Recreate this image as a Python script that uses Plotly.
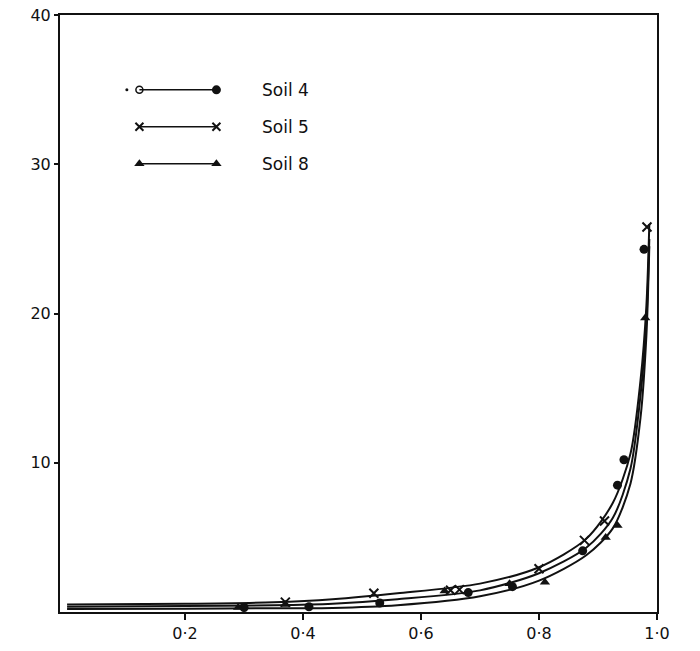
import plotly.graph_objects as go

# ---------------- data ----------------
soils = ["Soil 4", "Soil 5", "Soil 8"]

# fitted curves
curve_x = [0.0, 0.2, 0.35, 0.45, 0.56, 0.70, 0.80, 0.88, 0.925, 0.955, 0.972, 0.982, 0.987]
curve4_y = [0.35, 0.4, 0.45, 0.55, 0.85, 1.45, 2.6, 4.3, 6.3, 9.6, 14.5, 19.5, 25.0]
curve5_y = [0.5, 0.55, 0.65, 0.85, 1.25, 1.9, 3.0, 4.9, 7.3, 10.6, 15.5, 20.5, 26.0]
curve8_y = [0.2, 0.22, 0.25, 0.27, 0.45, 1.05, 2.1, 3.8, 5.6, 8.6, 13.0, 18.5, 24.5]

# observed points
soil4_x = [0.30, 0.41, 0.53, 0.68, 0.755, 0.874, 0.933, 0.944, 0.978]
soil4_y = [0.30, 0.35, 0.60, 1.30, 1.70, 4.10, 8.50, 10.20, 24.30]
soil5_x = [0.37, 0.52, 0.65, 0.665, 0.80, 0.877, 0.911, 0.983]
soil5_y = [0.66, 1.26, 1.46, 1.50, 2.90, 4.80, 6.10, 25.80]
soil8_x = [0.29, 0.37, 0.64, 0.75, 0.81, 0.913, 0.933, 0.980]
soil8_y = [0.30, 0.50, 1.40, 1.90, 2.00, 5.00, 5.80, 19.70]

x_ticks = [0.2, 0.4, 0.6, 0.8, 1.0]
x_tick_labels = ["0·2", "0·4", "0·6", "0·8", "1·0"]
y_ticks = [10, 20, 30, 40]
y_tick_labels = ["10", "20", "30", "40"]

# ---------------- figure ----------------
INK = "#111111"
FONT = "DejaVu Sans"

fig = go.Figure()

for cy in (curve4_y, curve5_y, curve8_y):
    fig.add_trace(go.Scatter(
        x=curve_x, y=cy, mode="lines",
        line=dict(color=INK, width=2, shape="spline", smoothing=0.8),
        showlegend=False, hoverinfo="skip"))

fig.add_trace(go.Scatter(
    x=soil4_x, y=soil4_y, mode="markers", name=soils[0],
    marker=dict(symbol="circle", size=9, color=INK), showlegend=False))
fig.add_trace(go.Scatter(
    x=soil5_x, y=soil5_y, mode="markers", name=soils[1],
    marker=dict(symbol="x-thin", size=9, color=INK, line=dict(width=2, color=INK)),
    showlegend=False))
fig.add_trace(go.Scatter(
    x=soil8_x, y=soil8_y, mode="markers", name=soils[2],
    marker=dict(symbol="triangle-up", size=9, color=INK), showlegend=False))

# ---------------- hand-drawn style legend (paper-space overlay axes) ----------------
leg_rows = [0.8746, 0.8127, 0.7508]
leg_x0, leg_x1, leg_tx = 0.133, 0.262, 0.335

for row in leg_rows:
    fig.add_shape(type="line", xref="paper", yref="paper",
                  x0=leg_x0, x1=leg_x1, y0=row, y1=row,
                  line=dict(color=INK, width=1.5))

# Soil 4 glyphs: small dot, open circle, filled circle
fig.add_trace(go.Scatter(x=[0.112], y=[leg_rows[0]], xaxis="x2", yaxis="y2", mode="markers",
                         marker=dict(symbol="circle", size=3, color=INK),
                         showlegend=False, hoverinfo="skip"))
fig.add_trace(go.Scatter(x=[leg_x0], y=[leg_rows[0]], xaxis="x2", yaxis="y2", mode="markers",
                         marker=dict(symbol="circle-open", size=7, color=INK, line=dict(width=1.5)),
                         showlegend=False, hoverinfo="skip"))
fig.add_trace(go.Scatter(x=[leg_x1], y=[leg_rows[0]], xaxis="x2", yaxis="y2", mode="markers",
                         marker=dict(symbol="circle", size=9, color=INK),
                         showlegend=False, hoverinfo="skip"))
fig.add_trace(go.Scatter(x=[leg_x0, leg_x1], y=[leg_rows[1]] * 2, xaxis="x2", yaxis="y2",
                         mode="markers",
                         marker=dict(symbol="x-thin", size=8, color=INK, line=dict(width=2, color=INK)),
                         showlegend=False, hoverinfo="skip"))
fig.add_trace(go.Scatter(x=[leg_x0, leg_x1], y=[leg_rows[2]] * 2, xaxis="x2", yaxis="y2",
                         mode="markers",
                         marker=dict(symbol="triangle-up", size=9, color=INK),
                         showlegend=False, hoverinfo="skip"))

for name, row in zip(soils, leg_rows):
    fig.add_annotation(x=leg_tx, y=row, xref="paper", yref="paper", text=name,
                       showarrow=False, xanchor="left", yanchor="middle",
                       font=dict(family=FONT, size=17, color=INK))

fig.update_layout(
    width=700, height=651,
    margin=dict(l=60, r=43, t=15, b=39, autoexpand=False),
    paper_bgcolor="white", plot_bgcolor="white",
    font=dict(family=FONT, size=16, color=INK),
    xaxis=dict(range=[-0.012, 1.0], tickvals=x_ticks, ticktext=x_tick_labels,
               automargin=False, ticklabeloverflow="allow",
               showgrid=False, zeroline=False, showline=True, linecolor=INK, linewidth=2,
               mirror=True, ticks="outside", ticklen=6, tickwidth=2, tickcolor=INK,
               tickfont=dict(family=FONT, size=16, color=INK)),
    yaxis=dict(range=[0, 40], tickvals=y_ticks, ticktext=y_tick_labels,
               automargin=False, ticklabeloverflow="allow",
               showgrid=False, zeroline=False, showline=True, linecolor=INK, linewidth=2,
               mirror=True, ticks="outside", ticklen=4, tickwidth=2, tickcolor=INK,
               tickfont=dict(family=FONT, size=16, color=INK)),
    xaxis2=dict(overlaying="x", range=[0, 1], visible=False, domain=[0, 1], automargin=False),
    yaxis2=dict(overlaying="y", range=[0, 1], visible=False, domain=[0, 1], automargin=False),
)

fig.write_html("out.html",
               config={"displayModeBar": False},
               post_script="document.body.style.margin='0';document.body.style.overflow='hidden';")
